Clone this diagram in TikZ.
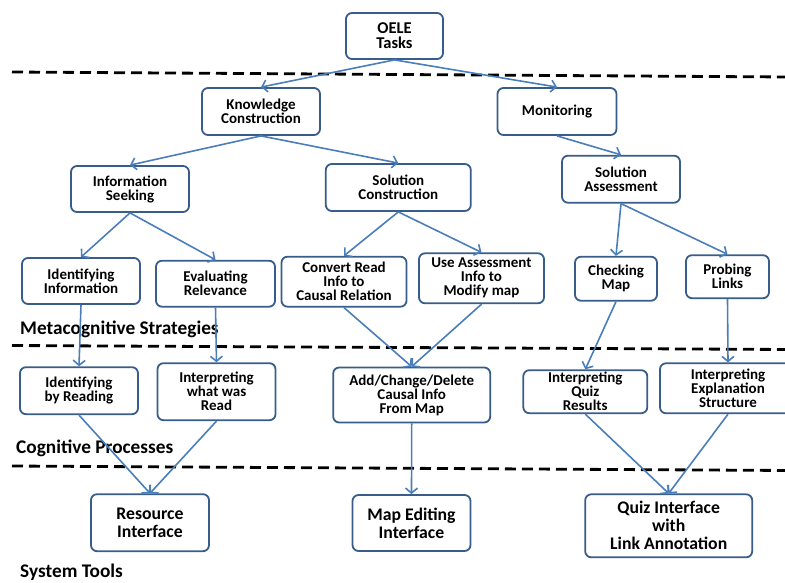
\documentclass[tikz,border=0pt]{standalone}
\usepackage{fontspec}
\setmainfont{Carlito}
\usetikzlibrary{arrows.meta}
\definecolor{boxblue}{HTML}{385D8A}
\definecolor{arrblue}{HTML}{4A7EBB}
\tikzset{
  box/.style={draw=boxblue, line width=1.8pt, rounded corners=6pt, fill=white, align=center, inner sep=0pt, font=\bfseries\fontsize{15}{14}\selectfont},
  bigbox/.style={box, font=\bfseries\fontsize{17.7}{18}\selectfont},
  conn/.style={draw=arrblue, line width=1.6pt, -{Straight Barb[length=5pt,width=12pt,line width=1.6pt]}},
  sep/.style={draw=black, line width=2.8pt, dash pattern=on 11pt off 6pt},
  lab/.style={anchor=west, inner sep=0pt, font=\bfseries\fontsize{19.3}{20}\selectfont}
}
\begin{document}
\begin{tikzpicture}[x=1pt,y=-1pt]
\useasboundingbox (0,0) rectangle (785,582);
% separators
\coordinate (s1a) at (12,72); \coordinate (s1b) at (790,77);
\coordinate (s2a) at (12,345.5); \coordinate (s2b) at (790,349.5);
\coordinate (s3a) at (12,466); \coordinate (s3b) at (790,470.5);
\draw[sep] (s1a) -- (s1b);
\draw[sep] (s2a) -- (s2b);
\draw[sep] (s3a) -- (s3b);
% labels
\node[lab] (lm) at (20,329) {Metacognitive Strategies};
\node[lab] (lc) at (16,448) {Cognitive Processes};
\node[lab] (ls) at (20,572) {System Tools};
% nodes
\node[box, minimum width=97pt, minimum height=46pt, font=\bfseries\fontsize{16.5}{15}\selectfont] (oele) at (394.5,36) {OELE\\Tasks};
\node[box, minimum width=118pt, minimum height=47pt] (kc) at (261,111.5) {Knowledge\\Construction};
\node[box, minimum width=119pt, minimum height=47pt] (mon) at (557,111.5) {Monitoring};
\node[box, minimum width=118pt, minimum height=46pt] (is) at (130,189) {Information\\Seeking};
\node[box, minimum width=145pt, minimum height=47pt] (sc) at (398.3,187.5) {Solution\\Construction};
\node[box, minimum width=118pt, minimum height=47pt] (sa) at (621,179.2) {Solution\\Assessment};
\node[box, minimum width=118pt, minimum height=46pt] (ii) at (81,281) {Identifying\\Information};
\node[box, minimum width=119pt, minimum height=46pt] (er) at (215.5,283.7) {Evaluating\\Relevance};
\node[box, minimum width=125pt, minimum height=50pt] (cr) at (344,281.7) {Convert Read\\Info to\\Causal Relation};
\node[box, minimum width=125pt, minimum height=50pt] (ua) at (481.5,278.3) {Use Assessment\\Info to\\Modify map};
\node[box, minimum width=82pt, minimum height=44pt] (cm) at (616,278.7) {Checking\\Map};
\node[box, minimum width=83pt, minimum height=43pt] (pl) at (727.5,276.7) {Probing\\Links};
\node[box, minimum width=118pt, minimum height=47pt] (ibr) at (79,390.7) {Identifying\\by Reading};
\node[box, minimum width=118pt, minimum height=57pt] (iwr) at (216.5,391.7) {Interpreting\\what was\\Read};
\node[box, minimum width=157pt, minimum height=55pt] (acd) at (411.7,395) {Add/Change/Delete\\Causal Info\\From Map};
\node[box, minimum width=124pt, minimum height=43pt] (iqr) at (585.3,391.7) {Interpreting\\Quiz\\Results};
\node[box, minimum width=136pt, minimum height=50pt] (ies) at (728,388.3) {Interpreting\\Explanation\\Structure};
\node[bigbox, minimum width=118pt, minimum height=57pt] (ri) at (150,522.7) {Resource\\Interface};
\node[bigbox, minimum width=118pt, minimum height=56pt] (mei) at (411.5,523) {Map Editing\\Interface};
\node[bigbox, minimum width=167pt, minimum height=63pt] (qi) at (668.7,525.8) {Quiz Interface\\with\\Link Annotation};
% connectors
\draw[conn] (oele.south) -- (kc.north);
\draw[conn] (oele.south) -- (mon.north);
\draw[conn] (kc.south) -- (is.north);
\draw[conn] (kc.south) -- (sc.north);
\draw[conn] (mon.south) -- (sa.north);
\draw[conn] (is.south) -- (ii.north);
\draw[conn] (is.south) -- (er.north);
\draw[conn] (sc.south) -- (cr.north);
\draw[conn] (sc.south) -- (ua.north);
\draw[conn] (sa.south) -- (cm.north);
\draw[conn] (sa.south) -- (pl.north);
\draw[conn] (ii.south) -- (ibr.north);
\draw[conn] (er.south) -- (iwr.north);
\draw[conn] (cr.south) -- (acd.north);
\draw[conn] (ua.south) -- (acd.north);
\draw[conn] (cm.south) -- (iqr.north);
\draw[conn] (pl.south) -- (ies.north);
\draw[conn] (ibr.south) -- (ri.north);
\draw[conn] (iwr.south) -- (ri.north);
\draw[conn] (acd.south) -- (mei.north);
\draw[conn] (iqr.south) -- (qi.north);
\draw[conn] (ies.south) -- (qi.north);
\end{tikzpicture}
\end{document}
